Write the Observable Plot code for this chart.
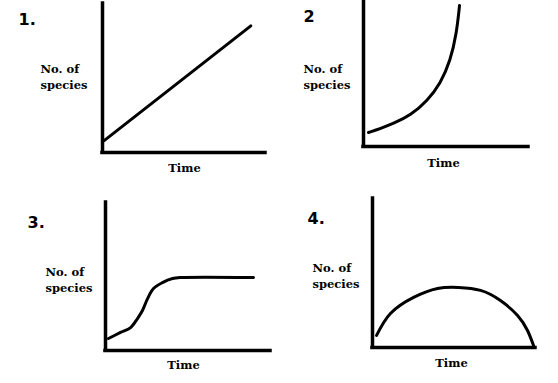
<!DOCTYPE html>
<html><head><meta charset="utf-8">
<script src="https://cdn.jsdelivr.net/npm/d3@7"></script>
<script src="https://cdn.jsdelivr.net/npm/@observablehq/plot@0.6"></script>
<style>
body{margin:0;background:#fff}
#c{position:relative;width:558px;height:383px;overflow:hidden}
#c>svg{position:absolute;background:transparent}
</style>
</head><body><div id="c"></div>
<script>
// Panel numbers and axis labels
const panelLabels = ["1.", "2", "3.", "4."];
const yLabel = "No. of\nspecies";
const xLabel = "Time";

// Panel 1: linear growth (time, no. of species)
const time1 = [0.1, 9.1];
const species1 = [0.8, 8.5];
// Panel 2: exponential growth
const time2 = [0.30, 1.03, 1.82, 2.85, 3.88, 4.67, 5.27, 5.64, 5.82];
const species2 = [0.96, 1.23, 1.58, 2.12, 3.15, 4.32, 5.89, 7.74, 9.66];
// Panel 3: sigmoid growth, plateau
const time3 = [0.18, 0.91, 1.52, 1.94, 2.24, 2.55, 2.91, 3.45, 4.06, 4.55, 8.97];
const species3 = [0.81, 1.22, 1.55, 2.16, 2.70, 3.51, 4.19, 4.59, 4.86, 4.93, 4.93];
// Panel 4: rise and fall
const time4 = [0.25, 1.10, 2.52, 3.99, 5.28, 6.63, 7.85, 8.90, 9.51, 9.88];
const species4 = [0.81, 2.28, 3.36, 3.96, 4.03, 3.83, 3.15, 2.15, 1.14, 0.13];

const series = [[time1, species1], [time2, species2], [time3, species3], [time4, species4]];
const curves = ["linear", "basis", "catmull-rom", "natural"];

// layout per panel
const layout = [
  {left: 0,   top: 0,   w: 279, h: 190, ml: 102, mr: 14, mt: 3,  mb: 38,
   num: [-84, 16], yl: [-62, 72], xl: [82, 165]},
  {left: 279, top: 0,   w: 279, h: 190, ml: 84,  mr: 30, mt: 0,  mb: 44,
   num: [-60, 16], yl: [-60, 75], xl: [80, 163]},
  {left: 0,   top: 190, w: 279, h: 193, ml: 105, mr: 9,  mt: 12, mb: 33,
   num: [-78, 20], yl: [-60, 76], xl: [78, 163]},
  {left: 279, top: 190, w: 279, h: 193, ml: 93,  mr: 23, mt: 8,  mb: 36,
   num: [-65, 20], yl: [-60, 76], xl: [79, 165]}
];

const serif = "DejaVu Serif";
const container = document.getElementById("c");

series.forEach(([ts, ss], i) => {
  const L = layout[i];
  const data = ts.map((t, j) => ({t, s: ss[j]}));
  const svg = Plot.plot({
    width: L.w, height: L.h,
    marginLeft: L.ml, marginRight: L.mr, marginTop: L.mt, marginBottom: L.mb,
    x: {domain: [0, 10], axis: null},
    y: {domain: [0, 10], axis: null},
    marks: [
      Plot.ruleY([0], {x1: 0, x2: 10, stroke: "#000", strokeWidth: 3.5, strokeLinecap: "square"}),
      Plot.ruleX([0], {y1: 0, y2: 10, stroke: "#000", strokeWidth: 3.5, strokeLinecap: "square"}),
      Plot.line(data, {x: "t", y: "s", curve: curves[i],
        stroke: "#000", strokeWidth: 3, strokeLinecap: "round"}),
      Plot.text([panelLabels[i]], {frameAnchor: "top-left", dx: L.num[0], dy: L.num[1],
        textAnchor: "start", lineAnchor: "middle", fontFamily: "DejaVu Sans", fontWeight: "bold", fontSize: 16, fill: "#000"}),
      Plot.text([yLabel], {frameAnchor: "top-left", dx: L.yl[0], dy: L.yl[1],
        textAnchor: "start", lineAnchor: "middle", lineHeight: 1.4, fontFamily: serif, fontWeight: "bold", fontSize: 11.5, fill: "#000"}),
      Plot.text([xLabel], {frameAnchor: "top-left", dx: L.xl[0], dy: L.xl[1],
        textAnchor: "middle", lineAnchor: "middle", fontFamily: serif, fontWeight: "bold", fontSize: 11.5, fill: "#000"})
    ]
  });
  svg.style.left = L.left + "px";
  svg.style.top = L.top + "px";
  container.appendChild(svg);
});
</script>
</body></html>
